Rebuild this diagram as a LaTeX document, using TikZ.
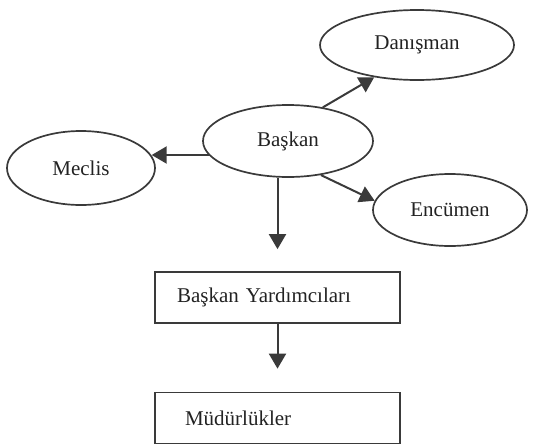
\documentclass[tikz,border=0pt]{standalone}
\usepackage{fontspec}
\setmainfont{Liberation Serif}
\usetikzlibrary{shapes.geometric,arrows.meta}
\definecolor{ink}{HTML}{3A3A3A}
\definecolor{txt}{HTML}{222222}
\tikzset{
  oval/.style={ellipse, draw=ink, line width=1.7pt, inner sep=0pt, text=txt,
    font=\fontsize{21}{25}\selectfont},
  orgbox/.style={rectangle, draw=ink, line width=1.7pt, inner ysep=0pt, inner xsep=22pt,
    text width=201pt, align=left, minimum height=51pt, text=txt,
    font=\fontsize{21}{25}\selectfont},
  arr/.style={draw=ink, line width=2pt, -{Triangle[length=15pt,width=17pt]}}
}
\begin{document}
\begin{tikzpicture}[x=1pt,y=-1pt]
\useasboundingbox (0,0) rectangle (538,445);
\node[oval, minimum width=194pt, minimum height=70pt] (dan) at (417,45) {Danışman};
\node[oval, minimum width=170pt, minimum height=72pt] (bas) at (288,141) {Başkan};
\node[oval, minimum width=148pt, minimum height=74pt] (mec) at (81,168) {Meclis};
\node[oval, minimum width=154pt, minimum height=72pt] (enc) at (450,210) {Encümen};
\node[orgbox] (yard) at (277.5,297.5) {Başkan Yardımcıları};
\node[orgbox] (mud) at (277.5,418) {\hspace*{8pt}Müdürlükler};
\draw[arr] (bas.44) -- (dan.217);
\draw[arr] (bas.-46) -- (enc.173);
\draw[arr] (bas.190) -- (bas.190 -| mec.10);
\draw[arr, shorten >=22pt] (bas.south -| yard.north) -- (yard.north);
\draw[arr, shorten >=23pt] (yard.south) -- (mud.north);
\end{tikzpicture}
\end{document}
